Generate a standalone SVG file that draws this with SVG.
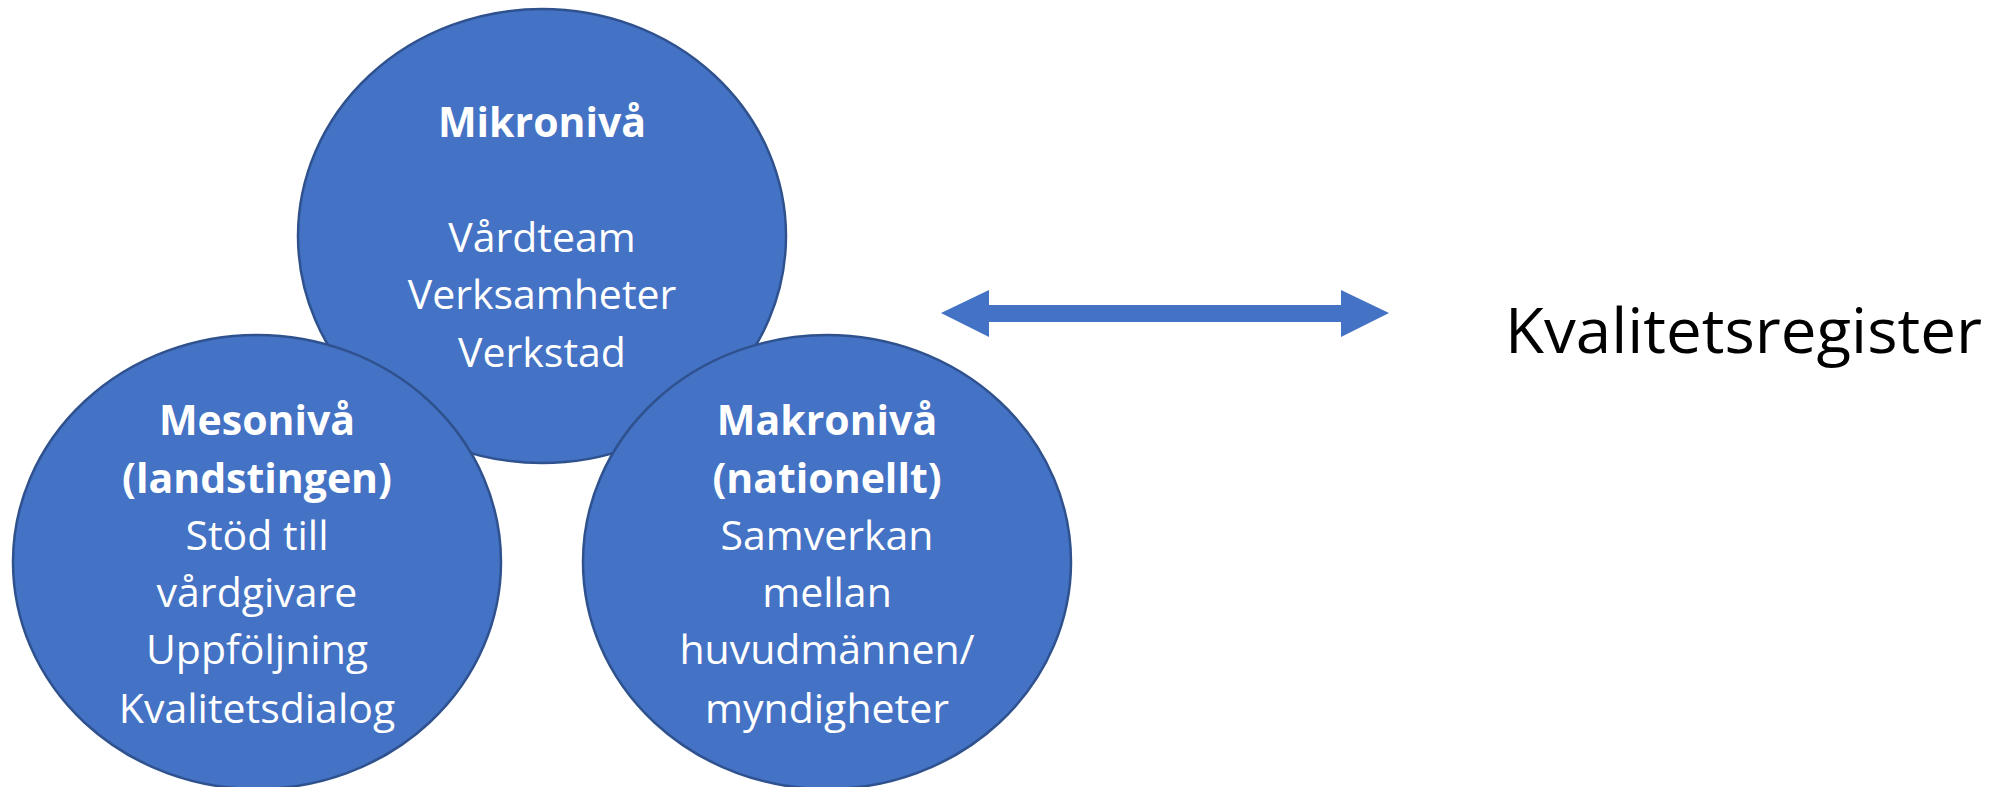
<svg xmlns="http://www.w3.org/2000/svg" width="1994" height="787" viewBox="0 0 1994 787">
<style>
.c{fill:#4472C4;stroke:#2F528F;stroke-width:2.5}
.t{font-family:"Open Sans","Noto Sans",sans-serif;font-size:41px;fill:#FFFFFF;text-anchor:middle}
.b{font-weight:bold}
.k{font-family:"Open Sans","Noto Sans",sans-serif;font-size:63px;fill:#000000}
</style>
<rect width="1994" height="787" fill="#FFFFFF"/>
<g id="mikro">
<ellipse class="c" cx="542" cy="236" rx="244" ry="227"/>
<text class="t b" x="542" y="137">Mikronivå</text>
<text class="t" x="542" y="252">Vårdteam</text>
<text class="t" x="542" y="309">Verksamheter</text>
<text class="t" x="542" y="367">Verkstad</text>
</g>
<g id="meso">
<ellipse class="c" cx="257" cy="562" rx="244" ry="227"/>
<text class="t b" x="257" y="435">Mesonivå</text>
<text class="t b" x="257" y="493">(landstingen)</text>
<text class="t" x="257" y="550">Stöd till</text>
<text class="t" x="257" y="607">vårdgivare</text>
<text class="t" x="257" y="664">Uppföljning</text>
<text class="t" x="257" y="723">Kvalitetsdialog</text>
</g>
<g id="makro">
<ellipse class="c" cx="827" cy="562" rx="244" ry="227"/>
<text class="t b" x="827" y="435">Makronivå</text>
<text class="t b" x="827" y="493">(nationellt)</text>
<text class="t" x="827" y="550">Samverkan</text>
<text class="t" x="827" y="607">mellan</text>
<text class="t" x="827" y="664">huvudmännen/</text>
<text class="t" x="827" y="723">myndigheter</text>
</g>
<g id="connectors">
<polygon fill="#4472C4" points="941,313 989,290 989,305 1341,305 1341,290 1389,313 1341,337 1341,322 989,322 989,337"/>
</g>
<g id="kvalitetsregister">
<text class="k" x="1505" y="353" textLength="477" lengthAdjust="spacingAndGlyphs">Kvalitetsregister</text>
</g>
</svg>
